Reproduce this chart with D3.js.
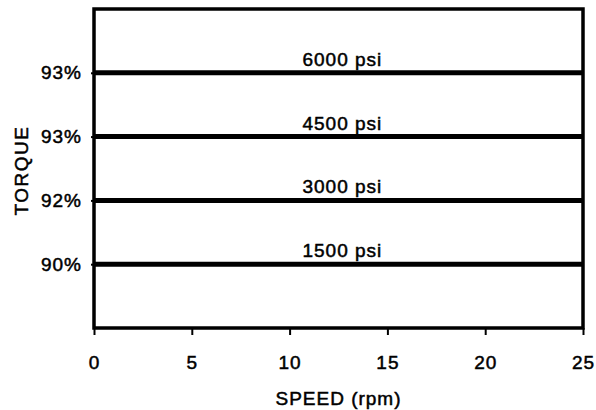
<!DOCTYPE html>
<html><head><meta charset="utf-8">
<script src="https://cdn.jsdelivr.net/npm/d3@7"></script>
<style>
html,body{margin:0;padding:0;background:#fff;}
text{font-family:"Liberation Sans",Arial,sans-serif;fill:#000;}
</style></head>
<body>
<svg id="chart" width="596" height="410"></svg>
<script>
// Data
const speedRange = [0, 25];
const xTicks = [0, 5, 10, 15, 20, 25];
const pressures = ["6000 psi", "4500 psi", "3000 psi", "1500 psi"];
const levels = [4, 3, 2, 1];
const torqueLabels = ["93%", "93%", "92%", "90%"];
const yDomain = [0, 5];
const labelSpeed = 12.7;

const W = 596, H = 410;
const margin = {left: 94, top: 9, right: 13, bottom: 82};
const svg = d3.select("#chart");
const x = d3.scaleLinear().domain(speedRange).range([margin.left, W - margin.right]);
const y = d3.scaleLinear().domain(yDomain).range([H - margin.bottom, margin.top]);

const fs = 19;
const ls = 1;
const sw = 0.5;
function styleText(sel) {
  return sel.attr("font-size", fs)
    .attr("font-family", "Liberation Sans, Arial, sans-serif")
    .attr("letter-spacing", ls)
    .attr("stroke", "#000").attr("stroke-width", sw);
}

// frame
svg.append("rect")
  .attr("x", x(speedRange[0])).attr("y", y(yDomain[1]))
  .attr("width", x(speedRange[1]) - x(speedRange[0]))
  .attr("height", y(yDomain[0]) - y(yDomain[1]))
  .attr("fill", "none").attr("stroke", "#000").attr("stroke-width", 3.5);

// x axis
const xAxis = svg.append("g")
  .attr("transform", `translate(0,${y(yDomain[0])})`)
  .call(d3.axisBottom(x).tickValues(xTicks).tickSize(7).tickPadding(21).tickFormat(d3.format("d")));
xAxis.select(".domain").remove();
xAxis.selectAll("line").attr("stroke", "#000").attr("stroke-width", 2);
styleText(xAxis.selectAll("text"));

// y axis labels
const yAxis = svg.append("g")
  .attr("transform", `translate(${x(speedRange[0])},0)`)
  .call(d3.axisLeft(y).tickValues(levels).tickSize(3).tickPadding(9).tickFormat((d, i) => torqueLabels[i]));
yAxis.select(".domain").remove();
yAxis.selectAll("line").attr("stroke", "#000").attr("stroke-width", 2);
styleText(yAxis.selectAll("text"));

// lines
const series = pressures.map((p, i) => ({name: p, pts: speedRange.map(s => ({s, v: levels[i]}))}));
const line = d3.line().x(d => x(d.s)).y(d => y(d.v));
svg.selectAll("path.series").data(series).join("path")
  .attr("class", "series")
  .attr("d", d => line(d.pts))
  .attr("fill", "none").attr("stroke", "#000").attr("stroke-width", 5);

styleText(svg.selectAll("text.lbl").data(series).join("text")
  .attr("class", "lbl")
  .attr("x", x(labelSpeed))
  .attr("y", d => y(d.pts[0].v) - 7)
  .attr("text-anchor", "middle"))
  .text(d => d.name);

// axis titles
styleText(svg.append("text")
  .attr("x", (x(speedRange[0]) + x(speedRange[1])) / 2)
  .attr("y", 405)
  .attr("text-anchor", "middle"))
  .text("SPEED (rpm)");

styleText(svg.append("text")
  .attr("transform", `translate(28,${(y(yDomain[0]) + y(yDomain[1])) / 2 + 2}) rotate(-90)`)
  .attr("text-anchor", "middle"))
  .attr("letter-spacing", 1.5)
  .text("TORQUE");
</script>
</body></html>
